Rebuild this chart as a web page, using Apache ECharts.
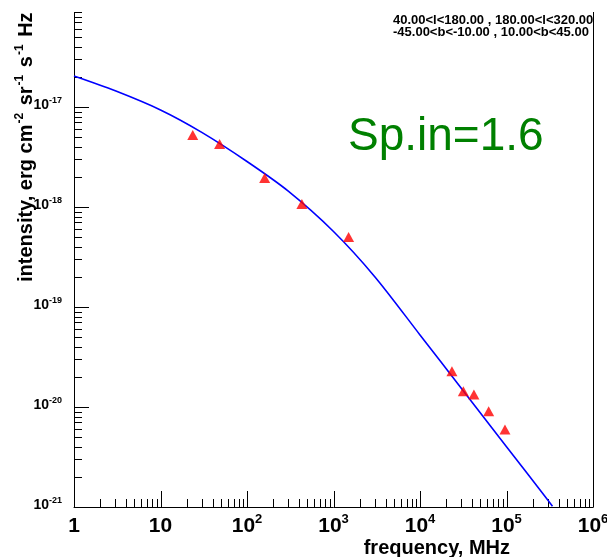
<!DOCTYPE html>
<html>
<head>
<meta charset="utf-8">
<script src="https://cdn.jsdelivr.net/npm/echarts@6/dist/echarts.min.js"></script>
<style>
  html, body { margin: 0; padding: 0; background: #fff; }
  #chart { width: 607px; height: 557px; }
</style>
</head>
<body>
<div id="chart"></div>
<script>
// measured intensities, MHz vs erg cm^-2 sr^-1 s^-1 Hz^-1
const obsFreq = [23.6, 48.2, 160, 431, 1495, 23400, 31700, 42000, 62200, 96000]
const obsInt = [5.26e-18, 4.27e-18, 1.95e-18, 1.07e-18, 5.0e-19, 2.28e-20, 1.44e-20, 1.33e-20, 9.06e-21, 5.94e-21]
// fitted spectrum
const fitFreq = [1, 3, 10, 30, 100, 300, 1000, 3000, 1e4, 3e4, 1e5, 3e5, 3.4e5]
const fitInt = [2.04e-17, 1.45e-17, 9.33e-18, 5.57e-18, 2.85e-18, 1.44e-18, 5.69e-19, 2.01e-19, 5.26e-20, 1.54e-20, 4.01e-21, 1.175e-21, 1.02e-21]
// axes
const xDecades = [0, 1, 2, 3, 4, 5, 6]
const yDecades = [-21, -20, -19, -18, -17, -16]
const yLabelDecades = [-21, -20, -19, -18, -17]
const minorSteps = [2, 3, 4, 5, 6, 7, 8, 9]
const regionLines = ['40.00<l<180.00 , 180.00<l<320.00', '-45.00<b<-10.00 , 10.00<b<45.00']
const spIndexText = 'Sp.in=1.6'

const FONT = 'Liberation Sans, Arial, Helvetica, sans-serif'
const xMin = Math.pow(10, xDecades[0])
const xMax = Math.pow(10, xDecades[xDecades.length - 1])
const yMin = Math.pow(10, yDecades[0])
const yMax = Math.pow(10, yDecades[yDecades.length - 1])

function tickValues (decades) {
  let out = []
  decades.forEach((d, i) => {
    out.push([Math.pow(10, d), 1])
    if (i < decades.length - 1) {
      minorSteps.forEach(m => out.push([m * Math.pow(10, d), 0]))
    }
  })
  return out
}

const xTicks = tickValues(xDecades).map(t => [t[0], yMin, t[1]])
const yTicks = tickValues(yDecades).map(t => [xMin, t[0], t[1]])
const yLabels = yLabelDecades.map(d => [xMin, Math.pow(10, d), d])

let chart = echarts.init(document.getElementById('chart'))
chart.setOption({
  animation: false,
  backgroundColor: '#fff',
  grid: {
    left: 74,
    right: 14,
    top: 7,
    bottom: 50,
    containLabel: false,
    outerBoundsMode: 'none'
  },
  xAxis: {
    type: 'log',
    logBase: 10,
    min: xMin,
    max: xMax,
    splitLine: {show: false},
    axisTick: {show: false},
    axisLine: {lineStyle: {color: '#000', width: 1}},
    axisLabel: {
      margin: 6,
      showMinLabel: true,
      showMaxLabel: true,
      formatter: (v) => {
        let e = Math.round(Math.log10(v))
        if (e === 0) return '{b|1}'
        if (e === 1) return '{b|10}'
        return '{b|10}{s|' + e + '}'
      },
      rich: {
        b: {fontSize: 21, fontWeight: 'bold', fontFamily: FONT, color: '#000', lineHeight: 26},
        s: {fontSize: 13, fontWeight: 'bold', fontFamily: FONT, color: '#000', lineHeight: 13, verticalAlign: 'top'}
      }
    }
  },
  yAxis: [
    {
      type: 'log',
      logBase: 10,
      min: yMin,
      max: yMax,
      splitLine: {show: false},
      axisTick: {show: false},
      axisLabel: {show: false},
      axisLine: {lineStyle: {color: '#000', width: 1}}
    },
    {
      type: 'log',
      logBase: 10,
      min: yMin,
      max: yMax,
      position: 'right',
      splitLine: {show: false},
      axisTick: {show: false},
      axisLabel: {show: false},
      axisLine: {show: true, lineStyle: {color: '#000', width: 1}}
    }
  ],
  graphic: [
    // the page above the frame is covered, as in the original
    {
      type: 'rect',
      z: 100,
      shape: {x: 0, y: 0, width: 607, height: 12},
      style: {fill: '#fff'}
    },
    {
      type: 'text',
      z: 50,
      x: 38,
      y: 282,
      rotation: Math.PI / 2,
      style: {
        text: '{b|intensity, erg cm}{s|-2}{b| sr}{s|-1}{b| s}{s|-1}{b| Hz}{s|-1}',
        textAlign: 'left',
        textVerticalAlign: 'bottom',
        rich: {
          b: {fontSize: 20, fontWeight: 'bold', fontFamily: FONT, fill: '#000', lineHeight: 24},
          s: {fontSize: 12, fontWeight: 'bold', fontFamily: FONT, fill: '#000', lineHeight: 12, verticalAlign: 'top', padding: [0, 2, 0, 1]}
        }
      }
    },
    {
      type: 'text',
      x: 510,
      y: 548,
      style: {
        text: 'frequency, MHz',
        font: 'bold 20px ' + FONT,
        fill: '#000',
        textAlign: 'right',
        textVerticalAlign: 'middle'
      }
    },
    {
      type: 'text',
      x: 393,
      y: 20,
      style: {
        text: regionLines[0],
        font: 'bold 13px ' + FONT,
        fill: '#000',
        textAlign: 'left',
        textVerticalAlign: 'middle'
      }
    },
    {
      type: 'text',
      x: 393,
      y: 32,
      style: {
        text: regionLines[1],
        font: 'bold 13px ' + FONT,
        fill: '#000',
        textAlign: 'left',
        textVerticalAlign: 'middle'
      }
    },
    {
      type: 'text',
      x: 348,
      y: 137,
      style: {
        text: spIndexText,
        font: '46px ' + FONT,
        fill: '#008000',
        textAlign: 'left',
        textVerticalAlign: 'middle'
      }
    }
  ],
  series: [
    {
      name: 'fit',
      type: 'line',
      smooth: 0.3,
      showSymbol: false,
      symbol: 'none',
      lineStyle: {color: '#0000ff', width: 1.6},
      data: fitFreq.map((f, i) => [f, fitInt[i]])
    },
    {
      name: 'data',
      type: 'scatter',
      symbol: 'triangle',
      symbolSize: [11, 10],
      itemStyle: {color: '#ff0000'},
      z: 3,
      data: obsFreq.map((f, i) => [f, obsInt[i]])
    },
    {
      name: 'xticks',
      type: 'custom',
      silent: true,
      clip: false,
      encode: {x: 0, y: 1},
      renderItem: (params, api) => {
        let p = api.coord([api.value(0), api.value(1)])
        let x = Math.round(p[0]) + 0.5
        let len = api.value(2) ? 16 : 8
        return {type: 'line', shape: {x1: x, y1: p[1], x2: x, y2: p[1] - len}, style: {stroke: '#000', lineWidth: 1}}
      },
      data: xTicks
    },
    {
      name: 'yticks',
      type: 'custom',
      silent: true,
      clip: false,
      encode: {x: 0, y: 1},
      renderItem: (params, api) => {
        let p = api.coord([api.value(0), api.value(1)])
        let y = Math.round(p[1]) + 0.5
        let len = api.value(2) ? 15 : 8
        return {type: 'line', shape: {x1: p[0], y1: y, x2: p[0] + len, y2: y}, style: {stroke: '#000', lineWidth: 1}}
      },
      data: yTicks
    },
    {
      // decade labels of the intensity axis
      name: 'ylabels',
      type: 'custom',
      silent: true,
      clip: false,
      encode: {x: 0, y: 1},
      renderItem: (params, api) => {
        let p = api.coord([api.value(0), api.value(1)])
        return {
          type: 'text',
          x: p[0] - 12,
          y: p[1] - 2,
          style: {
            text: '{b|10}{s|' + api.value(2) + '}',
            align: 'right',
            verticalAlign: 'middle',
            rich: {
              b: {fontSize: 14, fontWeight: 'bold', fontFamily: FONT, fill: '#000', lineHeight: 18},
              s: {fontSize: 9, fontWeight: 'bold', fontFamily: FONT, fill: '#000', lineHeight: 9, verticalAlign: 'top'}
            }
          }
        }
      },
      data: yLabels
    }
  ]
})
</script>
</body>
</html>
